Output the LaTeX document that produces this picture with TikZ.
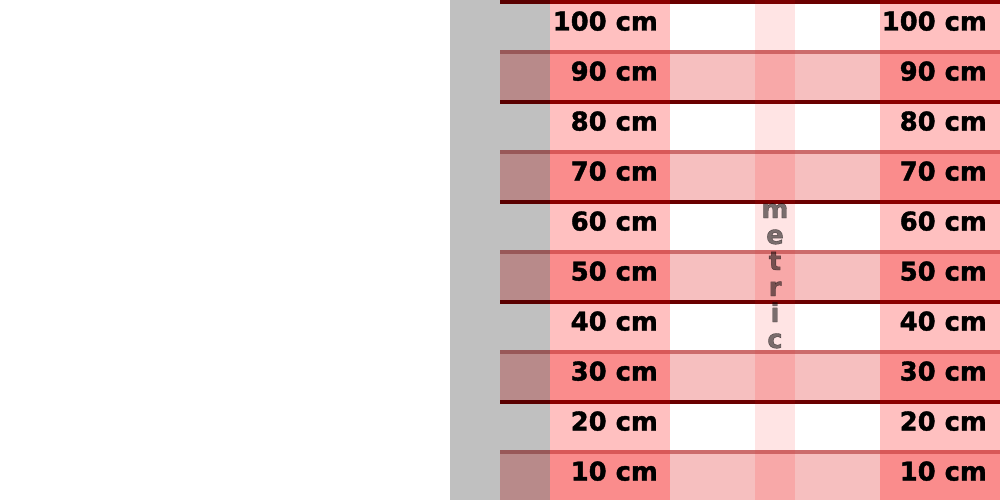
\documentclass[tikz,border=0pt]{standalone}
\usepackage{fontspec}
\setmainfont{DejaVu Sans}[BoldFont={DejaVu Sans Bold},BoldFeatures={FakeBold=1.5}]
\definecolor{baseG}{HTML}{C0C0C0}
\definecolor{baseP}{HTML}{FFC0C0}
\definecolor{baseL}{HTML}{FFE4E4}
\definecolor{bandG}{HTML}{B88A8A}
\definecolor{bandP}{HTML}{FA8C8C}
\definecolor{bandW}{HTML}{F6BFBF}
\definecolor{bandL}{HTML}{F8A8A8}
\definecolor{darkG}{HTML}{5A0000}
\definecolor{darkP}{HTML}{8B0000}
\definecolor{darkW}{HTML}{6B0000}
\definecolor{darkL}{HTML}{7A0000}
\definecolor{liteG}{HTML}{985858}
\definecolor{liteP}{HTML}{D85858}
\definecolor{liteW}{HTML}{CC6C6C}
\definecolor{liteL}{HTML}{D06464}
\tikzset{
  lab/.style={inner sep=0pt, font=\fontsize{25.8}{30}\selectfont\bfseries, text=black},
  vlab/.style={inner sep=0pt, anchor=base, font=\fontsize{26}{30}\selectfont\bfseries, text=black, text opacity=0.52}
}
\begin{document}
\begin{tikzpicture}[x=1pt,y=-1pt]
\useasboundingbox (0,0) rectangle (1000,500);
\fill[white] (0,0) rectangle (1000,500);
% base columns
\fill[baseG] (450,0) rectangle (550,500);
\fill[baseP] (550,0) rectangle (670,500);
\fill[baseL] (755,0) rectangle (795,500);
\fill[baseP] (880,0) rectangle (1000,500);
% bands and lines
\foreach \i in {0,...,9}{
  \pgfmathtruncatemacro\odd{mod(\i,2)}
  \ifnum\odd=1
    \foreach \xa/\xb/\c in {500/550/G,550/670/P,670/755/W,755/795/L,795/880/W,880/1000/P}{
      \fill[band\c] (\xa,50*\i) rectangle (\xb,50*\i+50);
      \fill[lite\c] (\xa,50*\i) rectangle (\xb,50*\i+4);
    }
  \else
    \foreach \xa/\xb/\c in {500/550/G,550/670/P,670/755/W,755/795/L,795/880/W,880/1000/P}{
      \fill[dark\c] (\xa,50*\i) rectangle (\xb,50*\i+4);
    }
  \fi
}
% labels
\foreach \i in {0,...,9}{
  \pgfmathtruncatemacro\v{100-10*\i}
  \node[lab, anchor=base east] (l\v) at (658,50*\i+30.5) {\v\ cm};
  \node[lab, anchor=base east] (r\v) at (987,50*\i+30.5) {\v\ cm};
}
% vertical word
\node[vlab] (m1) at (775,218) {m};
\node[vlab] (m2) at (775,244) {e};
\node[vlab] (m3) at (775,270) {t};
\node[vlab] (m4) at (775,296) {r};
\node[vlab] (m5) at (775,322) {i};
\node[vlab] (m6) at (775,348) {c};
\end{tikzpicture}
\end{document}
